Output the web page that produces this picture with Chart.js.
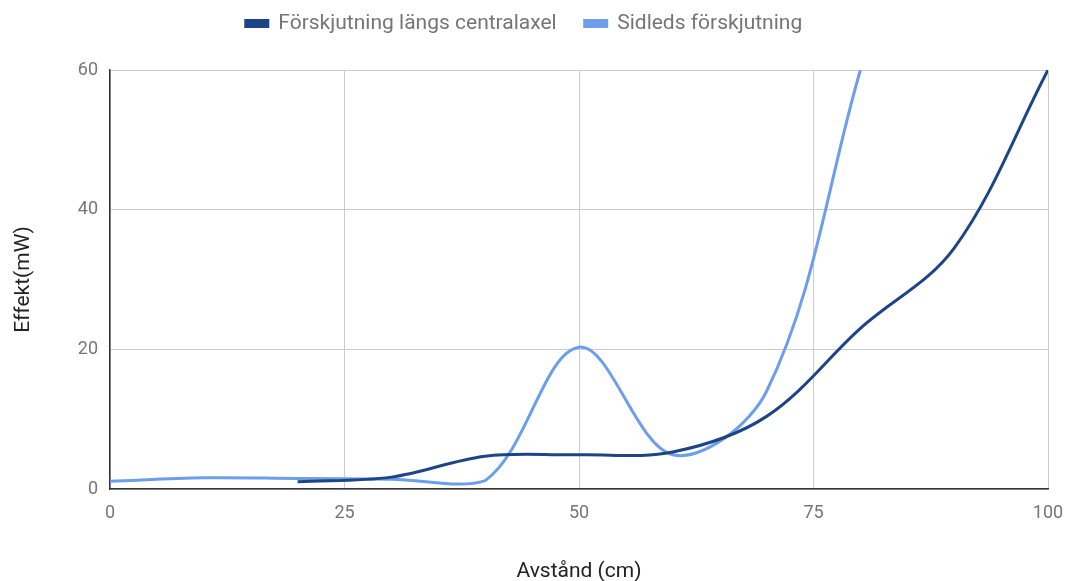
<!DOCTYPE html>
<html>
<head>
<meta charset="utf-8">
<script src="https://cdn.jsdelivr.net/npm/chart.js@4"></script>
<style>
  html, body { margin: 0; padding: 0; background: #fff; }
  #wrap { width: 1068px; height: 581px; }
</style>
</head>
<body>
<div id="wrap"><canvas id="chart"></canvas></div>
<script>
// Avstånd (cm) och effekt (mW)
const centralX = [20, 30, 40, 50, 60, 70, 80, 90, 100];
const centralY = [1.05, 1.7, 4.7, 4.9, 5.3, 10.4, 23, 34.5, 60];

const sidX = [0, 10, 20, 30, 40, 50, 60, 70, 80];
const sidY = [1.1, 1.6, 1.5, 1.4, 1.2, 20.3, 4.9, 14, 60];

const xTicks = [0, 25, 50, 75, 100];
const yTicks = [0, 20, 40, 60];

const toPoints = (xs, ys) => xs.map((x, i) => ({ x: x, y: ys[i] }));

const grey = '#757575';
const tickFont = { family: 'Roboto', size: 18 };
const titleFont = { family: 'Roboto', size: 21 };

new Chart(document.getElementById('chart'), {
    type: 'line',
    data: {
        datasets: [
            {
                label: 'Förskjutning längs centralaxel',
                data: toPoints(centralX, centralY),
                borderColor: '#1c4587',
                backgroundColor: '#1c4587',
                borderWidth: 3,
                pointRadius: 0,
                tension: 0.35
            },
            {
                label: 'Sidleds förskjutning',
                data: toPoints(sidX, sidY),
                borderColor: '#6d9eeb',
                backgroundColor: '#6d9eeb',
                borderWidth: 3,
                pointRadius: 0,
                tension: 0.35
            }
        ]
    },
    options: {
        responsive: true,
        maintainAspectRatio: false,
        animation: false,
        layout: { padding: { left: 0, right: 20, top: -15, bottom: 0 } },
        plugins: {
            legend: {
                position: 'top',
                labels: {
                    color: grey,
                    font: titleFont,
                    boxWidth: 22,
                    boxHeight: 6,
                    padding: 28
                }
            },
            tooltip: { enabled: false }
        },
        scales: {
            x: {
                type: 'linear',
                min: 0,
                max: 100,
                afterBuildTicks: (scale) => { scale.ticks = xTicks.map(v => ({ value: v })); },
                afterFit: (scale) => {
                    scale.height = 92;
                    scale.paddingLeft = 0;
                    scale.paddingRight = 0;
                },
                ticks: { color: grey, font: tickFont, padding: 14, maxRotation: 0 },
                grid: { color: '#cccccc', lineWidth: 1, drawTicks: false },
                border: { color: '#333333', width: 1.5 },
                title: {
                    display: true,
                    text: 'Avstånd (cm)',
                    color: '#222222',
                    font: titleFont,
                    padding: { top: 0, bottom: -3 }
                }
            },
            xTop: {
                type: 'linear',
                position: 'top',
                min: 0,
                max: 100,
                afterFit: (scale) => {
                    scale.height = 26;
                    scale.paddingLeft = 0;
                    scale.paddingRight = 0;
                },
                ticks: { display: false },
                grid: { display: false, drawTicks: false },
                border: { display: false }
            },
            y: {
                min: 0,
                max: 60,
                afterBuildTicks: (scale) => { scale.ticks = yTicks.map(v => ({ value: v })); },
                afterFit: (scale) => { scale.width = 110; },
                ticks: { color: grey, font: tickFont, padding: 12 },
                grid: { color: '#cccccc', lineWidth: 1, drawTicks: false },
                border: { color: '#333333', width: 1.5 },
                title: {
                    display: true,
                    text: 'Effekt(mW)',
                    color: '#222222',
                    font: titleFont,
                    padding: { top: 11, bottom: 0 }
                }
            }
        }
    }
});
</script>
</body>
</html>
